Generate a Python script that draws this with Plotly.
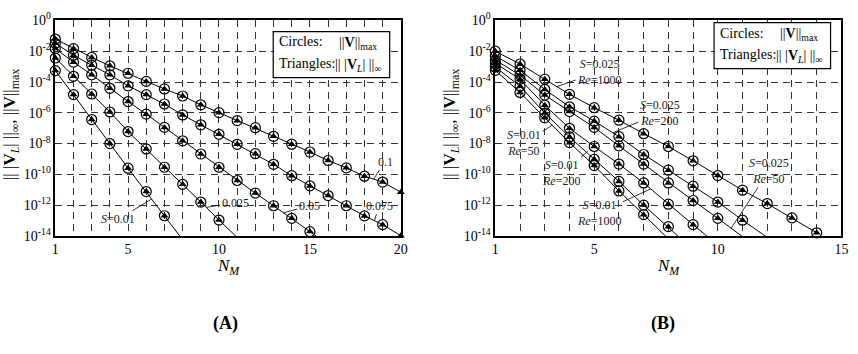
import plotly.graph_objects as go

W, H = 858, 354
SERIF = "Liberation Serif, Times New Roman, Times, serif"

# ---------------- Panel (A): log10 of the error norms versus N_M ----------------
A_N = list(range(1, 21))
A_S = ["0.01", "0.025", "0.05", "0.075", "0.1"]
A_s001 = [-3.26, -4.82, -6.44, -8.00, -9.60, -11.12, -12.69, -14.25]
A_s0025 = [-2.44, -3.63, -4.78, -5.95, -7.22, -8.35, -9.54, -10.65, -11.80, -12.97, -14.10]
A_s005 = [-1.83, -2.71, -3.53, -4.41, -5.27, -6.09, -6.95, -7.82, -8.68, -9.54, -10.40,
          -11.22, -12.04, -12.86, -13.72, -14.60]
A_s0075 = [-1.48, -2.26, -2.91, -3.53, -4.25, -4.82, -5.43, -6.14, -6.78, -7.40, -8.05,
           -8.66, -9.35, -10.09, -10.75, -11.38, -12.04, -12.70, -13.27, -13.99]
A_s01 = [-1.21, -1.83, -2.40, -2.95, -3.43, -3.96, -4.45, -4.91, -5.48, -5.99, -6.51,
         -6.97, -7.53, -8.04, -8.55, -9.10, -9.58, -10.12, -10.50, -11.16]
A_series = [A_s001, A_s0025, A_s005, A_s0075, A_s01]

# ---------------- Panel (B) ----------------
B_N = list(range(1, 16))
B_025_1000 = [-2.00, -2.83, -3.82, -4.80, -5.67, -6.48, -7.36, -8.19, -9.12, -10.08,
              -11.03, -11.90, -12.83, -13.80]
B_025_200 = [-2.31, -3.24, -4.48, -5.61, -6.54, -7.55, -8.71, -9.73, -10.77, -11.80,
             -12.98, -14.10]
B_025_50 = [-2.58, -3.55, -4.85, -5.92, -6.95, -8.15, -9.33, -10.56, -11.70, -12.86, -14.05]
B_01_1000 = [-2.78, -3.82, -5.51, -7.01, -8.19, -9.33, -10.56, -11.94, -13.27, -14.60]
B_01_200 = [-3.03, -4.27, -6.02, -7.57, -9.02, -10.46, -12.00, -13.40, -14.90]
B_01_50 = [-3.24, -4.68, -6.33, -7.94, -9.43, -11.08, -12.62, -14.20]
B_series = [B_025_1000, B_025_200, B_025_50, B_01_1000, B_01_200, B_01_50]

Y_TICK_EXP = [0, -2, -4, -6, -8, -10, -12, -14]
A_XLABELS = [1, 5, 10, 15, 20]
B_XLABELS = [1, 5, 10, 15]


def px(x):
    return x / W


def py(y):
    return 1 - y / H


fig = go.Figure()


def add_series(xa, ya, logv, xmax):
    n = list(range(1, len(logv) + 1))
    vals = [10 ** v for v in logv]
    fig.add_trace(go.Scatter(x=n, y=vals, mode="lines", xaxis=xa, yaxis=ya,
                             line=dict(color="black", width=1), hoverinfo="skip"))
    inr = [(a, b) for a, b in zip(n, vals) if b >= 10 ** -14.01]
    circ = [(a, b) for a, b in inr if a < xmax]
    fig.add_trace(go.Scatter(x=[a for a, _ in circ], y=[b for _, b in circ], mode="markers",
                             xaxis=xa, yaxis=ya, cliponaxis=False,
                             marker=dict(symbol="circle-open", size=10, color="black",
                                         line=dict(width=1.2, color="black"))))
    fig.add_trace(go.Scatter(x=[a for a, _ in inr], y=[b for _, b in inr], mode="markers",
                             xaxis=xa, yaxis=ya, cliponaxis=False,
                             marker=dict(symbol="triangle-up", size=7, color="black")))


for s in A_series:
    add_series("x", "y", s, 20)
for s in B_series:
    add_series("x2", "y2", s, 15)

axis_common = dict(showline=True, linecolor="black", linewidth=1.5, mirror=True,
                   showgrid=True, gridcolor="#333", gridwidth=1, griddash="7px,5px",
                   zeroline=False, ticks="",
                   tickfont=dict(family=SERIF, size=14, color="black"))

ydom = [py(238), py(11)]
yticks = dict(type="log", range=[-14, 0], tickvals=[10 ** e for e in Y_TICK_EXP],
              ticktext=["10<sup>%d</sup>" % e for e in Y_TICK_EXP])

fig.update_layout(
    width=W, height=H, margin=dict(l=0, r=0, t=0, b=0),
    paper_bgcolor="white", plot_bgcolor="white", showlegend=False,
    font=dict(family=SERIF, size=14, color="black"),
    xaxis=dict(domain=[px(52), px(402)], range=[1, 20], anchor="y",
               tickvals=A_N, ticktext=[str(v) if v in A_XLABELS else "" for v in A_N],
               **axis_common),
    yaxis=dict(domain=ydom, anchor="x", **yticks, **axis_common),
    xaxis2=dict(domain=[px(497.7), px(848.3)], range=[1, 15], anchor="y2",
                tickvals=B_N, ticktext=[str(v) if v in B_XLABELS else "" for v in B_N],
                **axis_common),
    yaxis2=dict(domain=ydom, anchor="x2", **yticks, **axis_common),
)

ann = []
shapes = []

lab_font = dict(family=SERIF, size=12, color="#222")


def leader(xr, yr, tip, txt_pos, text):
    ann.append(dict(xref=xr, yref=yr, axref=xr, ayref=yr, x=tip[0], y=tip[1],
                    ax=txt_pos[0], ay=txt_pos[1], text=text, showarrow=True,
                    arrowhead=0, arrowwidth=0.8, arrowcolor="black", standoff=0,
                    font=lab_font, borderpad=1))


# Panel A labels (x in N_M, y in log10)
leader("x", "y", (6.3, -11.6), (4.47, -12.92), "<i>S</i>=" + A_S[0])
leader("x", "y", (9.3, -12.15), (10.88, -11.83), A_S[1])
leader("x", "y", (13.56, -12.5), (14.95, -12.04), A_S[2])
leader("x", "y", (18.55, -13.01), (18.8, -12.04), A_S[3])
leader("x", "y", (18.5, -10.31), (19.13, -9.17), A_S[4])


# Panel B labels
def sre(s, re):
    return "<i>S</i>=%s<br><i>Re</i>=%s" % (s, re)


leader("x2", "y2", (3.49, -4.3), (5.2, -3.34), sre("0.025", "1000"))
leader("x2", "y2", (5.75, -7.3), (7.66, -6.02), sre("0.025", "200"))
leader("x2", "y2", (10.54, -13.5), (12.07, -9.77), sre("0.025", "50"))
leader("x2", "y2", (3.3, -6.81), (2.17, -7.98), sre("0.01", "50"))
leader("x2", "y2", (4.75, -8.5), (3.65, -9.94), sre("0.01", "200"))
leader("x2", "y2", (7.28, -10.95), (5.21, -12.49), sre("0.01", "1000"))


# legend boxes
def legend_box(x0, y0):
    shapes.append(dict(type="rect", xref="paper", yref="paper", x0=px(x0), x1=px(x0 + 118),
                       y0=py(y0 + 48.5), y1=py(y0), line=dict(color="black", width=1.2),
                       fillcolor="white", layer="above"))
    f = dict(family=SERIF, size=14, color="black")
    ann.append(dict(xref="paper", yref="paper", x=px(x0 + 3.5), y=py(y0 + 11),
                    xanchor="left", yanchor="middle", showarrow=False, text="Circles:", font=f))
    ann.append(dict(xref="paper", yref="paper", x=px(x0 + 65), y=py(y0 + 13),
                    xanchor="left", yanchor="middle", showarrow=False,
                    text="||<b>V</b>||<sub>max</sub>", font=f))
    ann.append(dict(xref="paper", yref="paper", x=px(x0 + 3.5), y=py(y0 + 33.5),
                    xanchor="left", yanchor="middle", showarrow=False, text="Triangles:", font=f))
    ann.append(dict(xref="paper", yref="paper", x=px(x0 + 61), y=py(y0 + 35.5),
                    xanchor="left", yanchor="middle", showarrow=False,
                    text="|| |<b>V</b><sub><i>L</i></sub>| ||<sub>∞</sub>", font=f))


legend_box(272.7, 22.7)
legend_box(719.3, 13.3)

ylab = "|| |<b>V</b><sub><i>L</i></sub>| ||<sub>∞</sub>, ||<b>V</b>||<sub>max</sub>"
for xc in (7.3, 453):
    ann.append(dict(xref="paper", yref="paper", x=px(xc), y=py(121), textangle=-90,
                    xanchor="center", yanchor="middle", showarrow=False, text=ylab,
                    font=dict(family=SERIF, size=17, color="black")))
for xc in (227, 673):
    ann.append(dict(xref="paper", yref="paper", x=px(xc), y=py(271), xanchor="center",
                    yanchor="middle", showarrow=False, text="<i>N</i><sub><i>M</i></sub>",
                    font=dict(family=SERIF, size=17, color="black")))
for xc, t in ((224, "(A)"), (668, "(B)")):
    ann.append(dict(xref="paper", yref="paper", x=px(xc), y=py(330), xanchor="center",
                    yanchor="middle", showarrow=False, text="<b>%s</b>" % t,
                    font=dict(family=SERIF, size=18, color="black")))

fig.update_layout(annotations=ann, shapes=shapes)
fig.write_html("out.html")
